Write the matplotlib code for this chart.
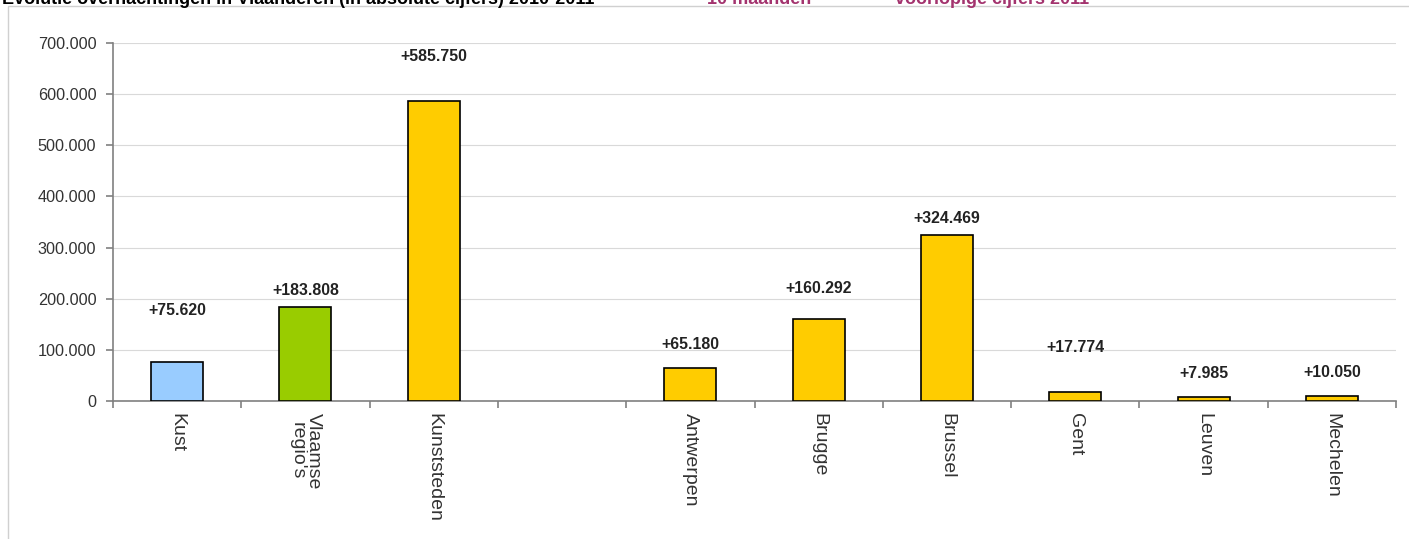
import matplotlib
matplotlib.use('Agg')
import matplotlib.pyplot as plt
from matplotlib.patches import Rectangle
from matplotlib.ticker import FuncFormatter

plt.rcParams['font.family'] = ['Liberation Sans', 'DejaVu Sans']

categories = ['Kust', "Vlaamse\nregio's", 'Kunststeden', '', 'Antwerpen', 'Brugge',
              'Brussel', 'Gent', 'Leuven', 'Mechelen']
values = [75620, 183808, 585750, 0, 65180, 160292, 324469, 17774, 7985, 10050]
labels = ['+75.620', '+183.808', '+585.750', '', '+65.180', '+160.292', '+324.469',
          '+17.774', '+7.985', '+10.050']
colors = ['#99CCFF', '#99CC00', '#FFCC00', 'none', '#FFCC00', '#FFCC00', '#FFCC00',
          '#FFCC00', '#FFCC00', '#FFCC00']
# label offsets above the bar top, in points
label_off = [37, 12, 32, 0, 17, 22, 12, 32, 17, 17]

fig = plt.figure(figsize=(14.09, 5.39), dpi=100)
ax = fig.add_axes([113/1409, 1-401/539, (1396-113)/1409, (401-43)/539])

x = list(range(len(categories)))
for i in x:
    if categories[i] == '':
        continue
    ax.bar(i, values[i], width=0.405, color=colors[i], edgecolor='black', linewidth=1.2, zorder=3)
    ax.annotate(labels[i], (i, values[i]), xytext=(0, label_off[i]), textcoords='offset points',
                ha='center', va='center', fontsize=11.4, fontweight='bold', color='#222222')

ax.set_xlim(-0.5, len(categories) - 0.5)
ax.set_ylim(0, 700000)
ax.set_yticks(range(0, 700001, 100000))
ax.yaxis.set_major_formatter(FuncFormatter(lambda v, p: f'{int(v):,}'.replace(',', '.')))
ax.grid(axis='y', color='#D9D9D9', linewidth=0.8, zorder=0)

ax.set_xticks([i + 0.5 for i in range(-1, len(categories))])
ax.set_xticklabels([])
for i, c in enumerate(categories):
    if c:
        ax.text(i, -12/358, c, transform=ax.get_xaxis_transform(), rotation=270,
                ha='center', va='top', fontsize=14, color='#333333', linespacing=0.95)

for s in ['top', 'right']:
    ax.spines[s].set_visible(False)
for s in ['left', 'bottom']:
    ax.spines[s].set_color('#808080')
    ax.spines[s].set_linewidth(1.2)
ax.tick_params(axis='both', colors='#808080', length=5, width=1.2, labelsize=11.7,
               labelcolor='#333333')
ax.tick_params(axis='y', pad=7)

# outer frame of the chart area
fig.patches.append(Rectangle((8/1409, -0.1), 1.2, 1 - 6/539 + 0.1, transform=fig.transFigure,
                             fill=False, edgecolor='#D0D0D0', linewidth=1))

fig.text(2/1409, 1 - 4.5/539, 'Evolutie overnachtingen in Vlaanderen (in absolute cijfers) 2010-2011',
         fontsize=13, fontweight='bold', va='baseline', ha='left', color='black')
fig.text(707/1409, 1 - 4.5/539, '10 maanden', fontsize=13, fontweight='bold', va='baseline',
         ha='left', color='#A3336E')
fig.text(895/1409, 1 - 4.5/539, 'voorlopige cijfers 2011', fontsize=13, fontweight='bold',
         va='baseline', ha='left', color='#A3336E')

fig.savefig('out.png', dpi=100)
